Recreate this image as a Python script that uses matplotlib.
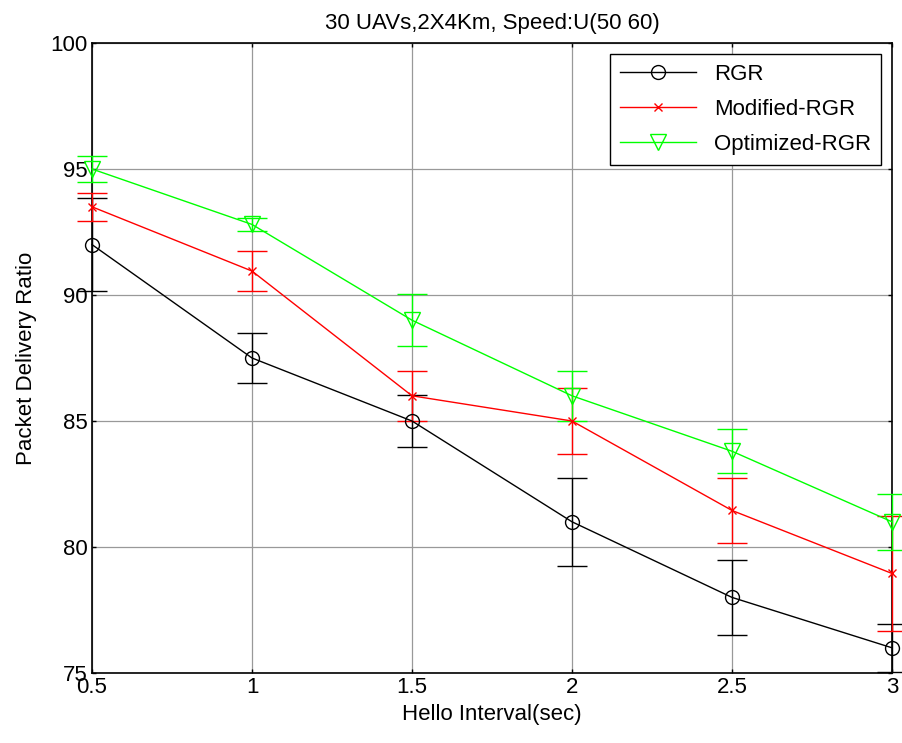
import matplotlib.pyplot as plt
import numpy as np

plt.rcParams['font.family'] = ['Liberation Sans', 'DejaVu Sans']

hello = [0.5, 1, 1.5, 2, 2.5, 3]

rgr = [92.0, 87.5, 85.0, 81.0, 78.0, 76.0]
rgr_err = [1.85, 1.0, 1.05, 1.75, 1.5, 0.95]

mod_rgr = [93.5, 90.95, 86.0, 85.0, 81.45, 78.95]
mod_err = [0.55, 0.8, 1.0, 1.3, 1.3, 2.3]

opt_rgr = [95.0, 92.8, 89.0, 86.0, 83.8, 81.0]
opt_err = [0.5, 0.27, 1.03, 1.0, 0.88, 1.1]

series = [
    ('RGR', rgr, rgr_err, 'k', 'o', dict(markersize=10, markerfacecolor='none')),
    ('Modified-RGR', mod_rgr, mod_err, 'r', 'x', dict(markersize=6)),
    ('Optimized-RGR', opt_rgr, opt_err, '#00ff00', 'v', dict(markersize=12, markerfacecolor='none')),
]

fig = plt.figure(figsize=(9.02, 7.43), dpi=100)
ax = fig.add_axes([92 / 902, 1 - 673 / 743, 800 / 902, 630 / 743])

for name, vals, err, col, mk, kw in series:
    ax.errorbar(hello, vals, yerr=err, color=col, marker=mk, lw=1.0,
                elinewidth=1.0, capsize=11, capthick=1.0, label=name,
                markeredgewidth=1.0, clip_on=False, zorder=3, **kw)

ax.set_xlim(0.5, 3)
ax.set_ylim(75, 100)
ax.set_xticks(hello)
ax.set_xticklabels(['0.5', '1', '1.5', '2', '2.5', '3'])
ax.set_yticks(np.arange(75, 101, 5))
ax.grid(True, color='0.6', lw=0.9)
ax.set_axisbelow(True)
ax.tick_params(direction='in', length=3, width=1, top=True, right=True,
               labelsize=16, pad=3)
for sp in ax.spines.values():
    sp.set_linewidth(1.2)

ax.set_title('30 UAVs,2X4Km, Speed:U(50 60)', fontsize=16, pad=10)
ax.set_xlabel('Hello Interval(sec)', fontsize=16, labelpad=4)
ax.set_ylabel('Packet Delivery Ratio', fontsize=16, labelpad=10)

handles, labels = ax.get_legend_handles_labels()
handles = [h[0] for h in handles]
leg = ax.legend(handles, labels, loc='upper right', fontsize=16, fancybox=False,
                edgecolor='k', framealpha=1, handlelength=3.4,
                borderaxespad=0.5, labelspacing=0.62, borderpad=0.45)
leg.get_frame().set_linewidth(1.0)

fig.savefig('out.png', dpi=100)
